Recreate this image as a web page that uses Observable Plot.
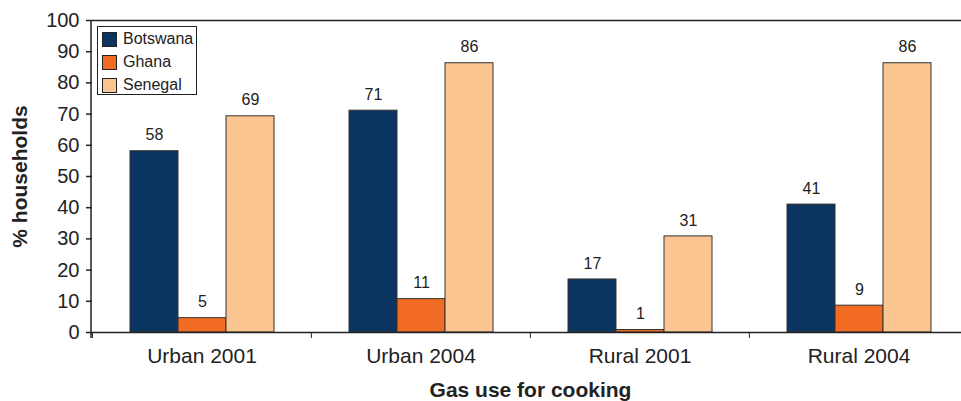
<!DOCTYPE html>
<html><head><meta charset="utf-8">
<script src="https://cdn.jsdelivr.net/npm/d3@7"></script>
<script src="https://cdn.jsdelivr.net/npm/@observablehq/plot@0.6"></script>
<style>
body{margin:0;background:#fff;font-family:"Liberation Sans",Arial,sans-serif;}
#wrap{position:relative;width:961px;height:401px;overflow:hidden;background:#fff;}
#chart svg{max-width:none !important;}
#legend{position:absolute;left:97px;top:26px;width:100px;height:69px;border:1px solid #222;background:#fff;box-sizing:border-box;font-family:"Liberation Sans",Arial,sans-serif;font-size:16px;color:#222;}
#legend .row{position:absolute;left:4px;height:16px;display:flex;align-items:center;}
#legend .sw{width:13px;height:13px;border:1px solid #222;margin-right:6px;}
</style></head><body>
<div id="wrap"><div id="chart"></div><div id="legend"></div></div>
<script>
const categories = ["Urban 2001", "Urban 2004", "Rural 2001", "Rural 2004"];
const series = ["Botswana", "Ghana", "Senegal"];
const botswana = [58.1, 71.1, 17.0, 41.0];
const ghana = [4.6, 10.7, 0.8, 8.6];
const senegal = [69.3, 86.3, 30.8, 86.3];
const colors = ["#0b3461", "#f26b22", "#fbc592"];
const yTicks = [0, 10, 20, 30, 40, 50, 60, 70, 80, 90, 100];
const yTitle = "% households";
const xTitle = "Gas use for cooking";

const valuesBySeries = [botswana, ghana, senegal];
const data = [];
categories.forEach((c, i) => series.forEach((s, j) => data.push({category: c, series: s, value: valuesBySeries[j][i]})));

const W = 968, H = 401, ML = 91, MR = 0;
const step = (W - ML - MR) / categories.length;
const font = "'Liberation Sans', Arial, sans-serif";

const chart = Plot.plot({
  width: W, height: H,
  marginLeft: ML, marginRight: MR, marginTop: 20, marginBottom: 69,
  style: {fontFamily: font, maxWidth: "none", color: "#222", background: "#fff"},
  fx: {domain: categories, padding: 0, axis: null},
  x: {domain: series, paddingInner: 0, paddingOuter: 0.735, axis: null},
  y: {domain: [0, 100], axis: null},
  color: {domain: series, range: colors},
  marks: [
    Plot.ruleY([100], {stroke: "#222", strokeWidth: 1.5}),
    Plot.barY(data, {fx: "category", x: "series", y: "value", fill: "series", stroke: "#333", strokeWidth: 1}),
    Plot.text(data, {fx: "category", x: "series", y: "value", text: d => String(Math.round(d.value)), dy: -16, fontSize: 16, fill: "#222"}),
    Plot.ruleY([0], {stroke: "#222", strokeWidth: 1.5}),
    Plot.axisY({ticks: yTicks, tickSize: 6, tickPadding: 7, fontSize: 20, label: null, stroke: "#222", strokeWidth: 1.5}),
    Plot.axisY({ticks: [], label: yTitle, labelArrow: "none", labelAnchor: "center", labelOffset: 80, fontSize: 21, fontWeight: "bold"}),
    Plot.axisFx({anchor: "bottom", tickSize: 0, tickPadding: 16, fontSize: 21, label: null}),
    Plot.axisFx({anchor: "bottom", tickSize: 6, tickFormat: () => "", dx: -step / 2, label: null, stroke: "#222", strokeWidth: 1}),
    Plot.axisFx({anchor: "bottom", ticks: [], label: xTitle, labelArrow: "none", labelAnchor: "center", labelOffset: 64, fontSize: 21, fontWeight: "bold"})
  ]
});
document.getElementById("chart").appendChild(chart);

// left axis line, placed with the chart's own y scale
const ys = chart.scale("y");
const yPix = v => ys.range[0] + (v - ys.domain[0]) / (ys.domain[1] - ys.domain[0]) * (ys.range[1] - ys.range[0]);
d3.select(chart).append("line")
  .attr("x1", ML).attr("x2", ML)
  .attr("y1", yPix(100)).attr("y2", yPix(0) + 6)
  .attr("stroke", "#222").attr("stroke-width", 1.5);

const legend = document.getElementById("legend");
series.forEach((s, j) => {
  const row = document.createElement("div");
  row.className = "row";
  row.style.top = (4 + j * 23) + "px";
  const sw = document.createElement("div");
  sw.className = "sw";
  sw.style.background = colors[j];
  const t = document.createElement("span");
  t.textContent = s;
  row.appendChild(sw); row.appendChild(t);
  legend.appendChild(row);
});
</script>
</body></html>
